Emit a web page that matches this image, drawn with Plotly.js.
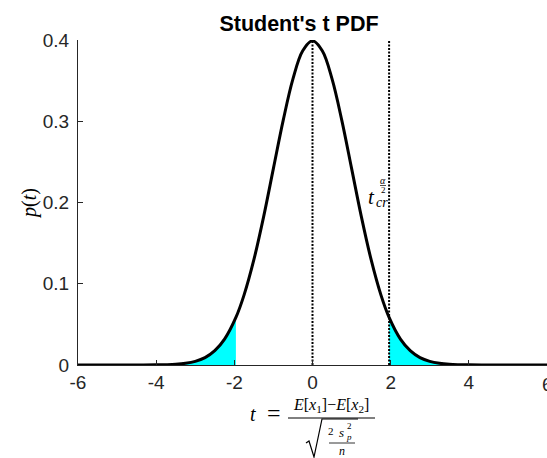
<!DOCTYPE html>
<html>
<head>
<meta charset="utf-8">
<script src="https://cdn.plot.ly/plotly-3.0.1.min.js"></script>
<style>html,body{margin:0;padding:0;background:#fff;overflow:hidden}#plot{width:547px;height:458px}</style>
</head>
<body>
<div id="plot"></div>
<script>
// ---- data ----
const tValues = [-6, -5.5, -5, -4.5, -4, -3.75, -3.5, -3.25, -3, -2.75, -2.5, -2.25, -1.96, -1.75, -1.5, -1.25, -1, -0.75, -0.5, -0.25,
                 0, 0.25, 0.5, 0.75, 1, 1.25, 1.5, 1.75, 1.96, 2.25, 2.5, 2.75, 3, 3.25, 3.5, 3.75, 4, 4.5, 5, 5.5, 6];
const pdfValues = [0, 0, 0.0000, 0.0001, 0.0002, 0.0004, 0.0009, 0.0021, 0.0045, 0.0091, 0.0176, 0.0318, 0.0585, 0.0863, 0.1296, 0.1826, 0.2420, 0.3011, 0.3521, 0.3867,
                   0.3990, 0.3867, 0.3521, 0.3011, 0.2420, 0.1826, 0.1296, 0.0863, 0.0585, 0.0318, 0.0176, 0.0091, 0.0045, 0.0021, 0.0009, 0.0004, 0.0002, 0.0001, 0.0000, 0, 0];
const tCritical = 1.96;
const meanLine = {x: [0, 0], y: [0, 0.4]};
const critLine = {x: [tCritical, tCritical], y: [0, 0.4]};
const xTickVals = [-6, -4, -2, 0, 2, 4, 6];
const xTickText = ['-6', '-4', '-2', '0', '2', '4', '6'];
const yTickVals = [0, 0.1, 0.2, 0.3, 0.4];
const yTickText = ['0', '0.1', '0.2', '0.3', '0.4'];
const titleText = "Student's t PDF";

// ---- build traces ----
const leftX = [], leftY = [], rightX = [], rightY = [];
tValues.forEach((t, i) => {
  if (t <= -tCritical) { leftX.push(t); leftY.push(pdfValues[i]); }
  if (t >= tCritical) { rightX.push(t); rightY.push(pdfValues[i]); }
});

const traces = [
  {x: leftX, y: leftY, type: 'scatter', mode: 'lines', fill: 'tozeroy', fillcolor: '#00FFFF',
   line: {width: 0, shape: 'spline', color: '#00FFFF'}, hoverinfo: 'skip'},
  {x: rightX, y: rightY, type: 'scatter', mode: 'lines', fill: 'tozeroy', fillcolor: '#00FFFF',
   line: {width: 0, shape: 'spline', color: '#00FFFF'}, hoverinfo: 'skip'},
  {x: meanLine.x, y: meanLine.y, type: 'scatter', mode: 'lines', line: {color: '#000', width: 2, dash: '2px,1.5px'}},
  {x: critLine.x, y: critLine.y, type: 'scatter', mode: 'lines', line: {color: '#000', width: 2, dash: '2px,1.5px'}},
  {x: tValues, y: pdfValues, type: 'scatter', mode: 'lines', line: {color: '#000', width: 3, shape: 'spline'}}
];

// ---- layout helpers (pixel -> paper) ----
const L = 78, T = 40, W = 469, H = 325;
const px = x => (x - L) / W;
const py = y => (T + H - y) / H;
const serif = 'Liberation Serif, Times New Roman, serif';
const sans = 'Liberation Sans, Arial, sans-serif';
function ann(text, x, y, size, extra) {
  return Object.assign({text: text, xref: 'paper', yref: 'paper', x: px(x), y: py(y),
    xanchor: 'center', yanchor: 'middle', showarrow: false,
    font: {family: serif, size: size, color: '#000'}}, extra || {});
}
function seg(x0, y0, x1, y1, w) {
  return {type: 'line', xref: 'paper', yref: 'paper', x0: px(x0), y0: py(y0), x1: px(x1), y1: py(y1),
          line: {color: '#000', width: w || 1}};
}
const radicalPts = [[306, 443], [309, 441], [314, 457], [322, 419], [358, 419]];
const radicalPath = radicalPts.map((p, i) => (i ? 'L' : 'M') + px(p[0]) + ',' + py(p[1])).join(' ');

const layout = {
  width: 547, height: 458,
  margin: {l: L, r: 0, t: T, b: 458 - T - H, pad: 0},
  paper_bgcolor: '#fff', plot_bgcolor: '#fff',
  showlegend: false,
  title: {text: '<b>' + titleText + '</b>', xref: 'container', yref: 'container', x: 299 / 547, xanchor: 'center',
          y: 1 - 23.5 / 458, yanchor: 'middle', font: {family: sans, size: 21.5, color: '#000'}},
  xaxis: {range: [-6, 6], tickvals: xTickVals, ticktext: xTickText, showgrid: false, zeroline: false,
          showline: true, linecolor: '#262626', linewidth: 1, ticks: 'inside', ticklen: 5, tickcolor: '#262626',
          tickfont: {family: sans, size: 19, color: '#262626'}, fixedrange: true},
  yaxis: {range: [0, 0.4], tickvals: yTickVals, ticktext: yTickText, showgrid: false, zeroline: false,
          showline: true, linecolor: '#262626', linewidth: 1, ticks: 'inside', ticklen: 5, tickcolor: '#262626',
          ticklabelstandoff: 4,
          tickfont: {family: sans, size: 19, color: '#262626'}, fixedrange: true},
  annotations: [
    // last x tick label, cut by the page edge as in the reference
    ann(xTickText[xTickText.length - 1], 547, 384, 19, {font: {family: sans, size: 19, color: '#262626'}}),
    // y label p(t)
    ann('<i>p</i>(<i>t</i>)', 29, 204, 20, {textangle: -90}),
    // x label formula
    ann('<i>t</i>', 252.5, 414, 20),
    ann('=', 274, 413, 24),
    ann('<i>E</i>[<i>x</i><sub>1</sub>]−<i>E</i>[<i>x</i><sub>2</sub>]', 331, 406, 16),
    ann('2', 331, 431, 11),
    ann('<i>s</i>', 341, 432, 13),
    ann('2', 349, 426, 9),
    ann('<i>p</i>', 349, 437, 9),
    ann('<i>n</i>', 342, 451, 12),
    // critical label
    ann('<i>t</i>', 371.5, 197, 21),
    ann('<i>cr</i>', 382, 203, 14),
    ann('<i>α</i>', 383, 180.5, 10),
    ann('2', 383, 190, 9)
  ],
  shapes: [
    seg(288, 418, 375, 418, 1),
    seg(329, 443, 355, 443, 0.8),
    seg(380, 185.5, 386, 185.5, 0.7),
    {type: 'path', xref: 'paper', yref: 'paper', path: radicalPath, line: {color: '#000', width: 1.2}}
  ]
};

Plotly.newPlot('plot', traces, layout, {staticPlot: true, displayModeBar: false});
</script>
</body>
</html>
